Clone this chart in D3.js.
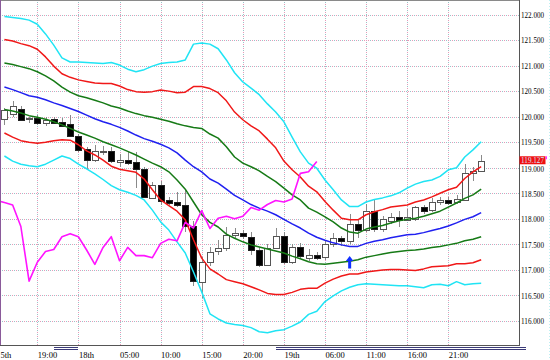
<!DOCTYPE html>
<html><head><meta charset="utf-8">
<script src="https://cdn.jsdelivr.net/npm/d3@7"></script>
<style>html,body{margin:0;padding:0;background:#fff;}svg{display:block;}</style>
</head><body>
<svg id="chart" width="550" height="360"></svg>
<script>
// ---------- DATA (hour index: 0 = 17th 19:00) ----------
const hours = d3.range(-4, 55);
const open = [119.96,120.05,120.15,119.95,119.97,119.88,119.95,119.90,119.86,119.63,119.37,119.15,119.30,119.32,119.12,119.16,119.11,118.98,118.42,118.67,118.37,118.32,118.27,117.85,116.77,117.16,117.36,117.42,117.68,117.72,117.65,117.39,117.10,117.43,117.66,117.16,117.45,117.24,117.30,117.24,117.50,117.62,117.56,117.90,117.78,118.15,117.79,117.95,118.03,117.98,118.00,118.24,118.16,118.32,118.37,118.32,118.38,118.90,118.93];
const high = [120.16,120.31,120.20,120.00,120.03,120.00,120.00,119.97,120.03,119.66,119.40,119.45,119.43,119.41,119.27,119.30,119.30,119.02,118.72,118.75,118.42,118.53,118.57,117.95,117.25,117.45,117.58,117.84,117.82,117.78,117.74,117.45,117.50,117.82,117.74,117.50,117.52,117.40,117.36,117.56,117.72,117.66,118.10,118.00,118.30,118.37,118.05,118.12,118.15,118.20,118.26,118.28,118.40,118.42,118.42,118.46,119.08,119.02,119.25];
const low = [119.84,120.00,119.92,119.88,119.84,119.81,119.85,119.80,119.61,119.31,118.98,119.12,119.25,119.10,119.02,119.05,118.60,118.40,118.38,118.28,118.28,118.24,117.75,116.68,116.45,117.08,117.30,117.38,117.60,117.60,117.30,117.05,117.08,117.40,117.12,117.12,117.22,117.18,117.20,117.20,117.45,117.46,117.50,117.62,117.74,117.74,117.75,117.90,117.84,117.95,117.96,118.10,118.14,118.28,118.28,118.30,118.36,118.74,118.92];
const close = [120.13,120.20,119.94,119.97,119.87,119.93,119.88,119.82,119.63,119.36,119.15,119.32,119.32,119.12,119.16,119.10,118.98,118.43,118.67,118.36,118.32,118.27,117.85,116.77,117.16,117.36,117.42,117.68,117.72,117.66,117.39,117.10,117.43,117.66,117.16,117.45,117.28,117.29,117.24,117.50,117.62,117.56,117.90,117.78,118.15,117.79,117.99,118.03,117.97,118.04,118.24,118.16,118.32,118.36,118.32,118.38,118.90,118.93,119.13];

const bandUpper3 = [121.96,121.94,121.92,121.89,121.81,121.62,121.40,121.15,121.07,121.07,121.06,121.05,121.04,121.06,121.01,120.93,120.88,120.92,120.99,121.04,121.06,121.07,121.11,121.42,121.44,121.42,121.33,121.11,120.86,120.68,120.56,120.43,120.25,120.09,119.90,119.60,119.31,119.09,118.99,118.76,118.57,118.37,118.24,118.24,118.33,118.38,118.41,118.45,118.51,118.60,118.68,118.73,118.76,118.83,118.96,119.00,119.21,119.35,119.51];
const bandUpper2 = [121.51,121.48,121.43,121.39,121.32,121.17,120.99,120.84,120.77,120.72,120.69,120.66,120.65,120.65,120.60,120.53,120.49,120.48,120.49,120.52,120.50,120.47,120.48,120.59,120.59,120.55,120.47,120.31,120.09,119.94,119.82,119.72,119.56,119.39,119.13,118.96,118.82,118.64,118.53,118.34,118.17,118.01,117.98,117.98,118.08,118.14,118.18,118.23,118.25,118.27,118.33,118.37,118.43,118.50,118.57,118.62,118.79,118.92,119.02];
const bandUpper1 = [121.05,121.02,120.98,120.94,120.88,120.80,120.70,120.58,120.48,120.41,120.37,120.32,120.27,120.21,120.17,120.11,120.06,120.02,119.99,119.95,119.91,119.86,119.82,119.79,119.77,119.66,119.58,119.41,119.21,119.09,119.02,118.94,118.83,118.73,118.60,118.47,118.37,118.21,118.13,118.04,117.94,117.82,117.74,117.72,117.80,117.84,117.87,117.92,117.96,117.99,118.01,118.05,118.10,118.15,118.23,118.31,118.40,118.47,118.58];
const bandMiddle = [120.58,120.53,120.47,120.41,120.38,120.33,120.27,120.22,120.16,120.10,120.03,119.96,119.90,119.85,119.79,119.72,119.64,119.57,119.52,119.46,119.39,119.29,119.15,119.02,118.92,118.78,118.70,118.58,118.46,118.37,118.28,118.21,118.15,118.08,117.99,117.90,117.82,117.72,117.64,117.58,117.53,117.49,117.46,117.46,117.52,117.56,117.59,117.63,117.66,117.69,117.70,117.73,117.77,117.81,117.86,117.92,117.99,118.04,118.12];
const bandLower1 = [120.14,120.11,120.07,120.02,119.99,119.95,119.90,119.84,119.77,119.70,119.64,119.58,119.51,119.45,119.39,119.32,119.25,119.17,119.09,119.02,118.92,118.76,118.58,118.33,118.08,117.93,117.84,117.70,117.62,117.55,117.49,117.45,117.41,117.37,117.33,117.27,117.22,117.16,117.12,117.11,117.13,117.15,117.17,117.20,117.25,117.28,117.31,117.34,117.36,117.38,117.39,117.41,117.44,117.46,117.49,117.52,117.57,117.60,117.65];
const bandLower2 = [119.68,119.60,119.53,119.50,119.48,119.50,119.53,119.55,119.54,119.45,119.33,119.25,119.15,119.03,118.97,118.94,118.91,118.78,118.57,118.37,118.26,118.15,117.98,117.59,117.23,117.02,116.92,116.81,116.77,116.73,116.67,116.61,116.54,116.52,116.52,116.56,116.62,116.64,116.64,116.74,116.82,116.88,116.92,116.92,116.96,116.98,117.00,117.01,117.01,117.00,116.99,117.02,117.06,117.07,117.08,117.12,117.12,117.14,117.20];
const bandLower3 = [119.23,119.13,119.07,119.04,119.02,119.07,119.15,119.23,119.18,119.07,118.98,118.88,118.77,118.65,118.57,118.52,118.46,118.37,118.17,117.94,117.78,117.55,117.33,116.96,116.57,116.14,116.04,115.96,115.93,115.91,115.87,115.79,115.77,115.81,115.83,115.90,115.98,116.13,116.19,116.38,116.49,116.59,116.66,116.71,116.73,116.72,116.71,116.70,116.69,116.69,116.67,116.65,116.71,116.72,116.69,116.77,116.71,116.73,116.74];

const lagHours = d3.range(-5, 35);
const lagSpan = [118.36,118.32,118.27,117.85,116.78,117.15,117.36,117.40,117.65,117.71,117.65,117.39,117.11,117.44,117.65,117.18,117.44,117.28,117.28,117.24,117.52,117.60,117.57,117.93,117.82,118.16,117.81,118.01,118.05,118.00,118.05,118.22,118.17,118.28,118.36,118.33,118.39,118.89,118.92,119.12];

const tickHours = [-5,0,5,10,15,20,25,30,35,40,45,50];
const tickLabels = ["5th","19:00","18th","05:00","10:00","15:00","20:00","19th","06:00","11:00","16:00","21:00"];
const priceTicks = [116,116.5,117,117.5,118,118.5,119,119.5,120,120.5,121,121.5,122];
const lastPrice = 119.127;
const signalHour = 38, signalPrice = 117.27;
const daySpans = [[2,5],[29,59.5]];

// ---------- DRAW ----------
const svg = d3.select("#chart");
const plotR = 519, plotB = 345;
const x = d3.scaleLinear().domain([0,50]).range([37.3,448.3]);
const y = d3.scaleLinear().domain([116,122]).range([321,14.5]);
const FONT = "'Liberation Serif', serif";

svg.append("rect").attr("width",550).attr("height",360).attr("fill","#fff");
svg.append("clipPath").attr("id","clip").append("rect").attr("x",0).attr("y",0).attr("width",plotR).attr("height",plotB);

// grid
const grid = svg.append("g").attr("clip-path","url(#clip)").attr("shape-rendering","crispEdges");
priceTicks.forEach(p=>{
  const yy = Math.round(y(p))+0.5;
  grid.append("line").attr("x1",0).attr("x2",plotR).attr("y1",yy).attr("y2",yy)
    .attr("stroke","#e898b8").attr("stroke-dasharray","1,3");
  grid.append("line").attr("x1",2).attr("x2",plotR).attr("y1",yy).attr("y2",yy)
    .attr("stroke","#98c4c8").attr("stroke-dasharray","1,3");
});
tickHours.forEach(h=>{
  const xx = Math.round(x(h))+0.5;
  grid.append("line").attr("x1",xx).attr("x2",xx).attr("y1",0).attr("y2",plotB)
    .attr("stroke","#e898b8").attr("stroke-dasharray","1,3");
  grid.append("line").attr("x1",xx).attr("x2",xx).attr("y1",2).attr("y2",plotB)
    .attr("stroke","#98c4c8").attr("stroke-dasharray","1,3");
});

// candles
const cg = svg.append("g").attr("clip-path","url(#clip)").attr("shape-rendering","crispEdges");
hours.forEach((h,k)=>{
  const cx = Math.round(x(h));
  const o=open[k], c=close[k], hi=high[k], lo=low[k];
  cg.append("line").attr("x1",cx+0.5).attr("x2",cx+0.5).attr("y1",y(hi)).attr("y2",y(lo))
    .attr("stroke","#8a8a8a").attr("stroke-width",1);
  const top = y(Math.max(o,c)), bot = y(Math.min(o,c));
  const up = c>=o;
  cg.append("rect").attr("x",cx-3+0.5).attr("y",Math.round(top)+0.5)
    .attr("width",6).attr("height",Math.max(1,Math.round(bot-top)))
    .attr("fill",up?"#fff":"#000").attr("stroke",up?"#555":"#222").attr("stroke-width",1);
});

// bands
const lg = svg.append("g").attr("clip-path","url(#clip)").attr("fill","none")
  .attr("stroke-width",1.5).attr("stroke-linejoin","round");
const line = d3.line().x(d=>x(d[0])).y(d=>y(d[1]));
const bands = [
  [bandUpper3,"#20e4f4"],[bandLower3,"#20e4f4"],
  [bandUpper2,"#f01818"],[bandLower2,"#f01818"],
  [bandUpper1,"#167a16"],[bandLower1,"#167a16"],
  [bandMiddle,"#2020f0"]
];
bands.forEach(([arr,col])=>{
  lg.append("path").attr("d",line(hours.map((h,k)=>[h,arr[k]]))).attr("stroke",col);
});
lg.append("path").attr("d",line(lagHours.map((h,k)=>[h,lagSpan[k]]))).attr("stroke","#ff14ff").attr("stroke-width",1.6);

// signal arrow
const ax = x(signalHour), ay = y(signalPrice);
svg.append("path").attr("fill","#1030ff")
  .attr("d",`M${ax},${ay} L${ax+3.8},${ay+5} L${ax+1.5},${ay+5} L${ax+1.5},${ay+12.5} L${ax-1.5},${ay+12.5} L${ax-1.5},${ay+5} L${ax-3.8},${ay+5} Z`);

// frame
const fr = svg.append("g").attr("shape-rendering","crispEdges");
fr.append("line").attr("x1",0).attr("x2",plotR).attr("y1",0.5).attr("y2",0.5).attr("stroke","#8a8a8a");
fr.append("line").attr("x1",0.5).attr("x2",0.5).attr("y1",0).attr("y2",plotB).attr("stroke","#8a5a9a");
fr.append("line").attr("x1",plotR+0.5).attr("x2",plotR+0.5).attr("y1",0).attr("y2",plotB+1).attr("stroke","#555");
fr.append("line").attr("x1",0).attr("x2",plotR+1).attr("y1",plotB+0.5).attr("y2",plotB+0.5).attr("stroke","#555");
fr.append("line").attr("x1",549.5).attr("x2",549.5).attr("y1",0).attr("y2",360).attr("stroke","#bfeff2").attr("stroke-dasharray","1,2");
daySpans.forEach(([a,b])=>{
  [347.5,349.5].forEach(yy=>fr.append("line").attr("x1",x(a)).attr("x2",x(b)).attr("y1",yy).attr("y2",yy).attr("stroke","#3a3a78"));
});

// axes
const yAxis = d3.axisRight(y).tickValues(priceTicks).tickFormat(d3.format(".3f")).tickSize(0).tickPadding(2);
const ya = svg.append("g").attr("transform",`translate(${plotR},0)`).call(yAxis);
ya.select(".domain").remove();
ya.attr("font-family",FONT).attr("font-size",8.5);
ya.selectAll("text").attr("fill","#000").attr("textLength",23).attr("lengthAdjust","spacingAndGlyphs")
  .attr("dy",d=>d===119 ? "0.42em" : "0.32em");

const xAxis = d3.axisBottom(x).tickValues(tickHours).tickFormat((d,i)=>tickLabels[i]).tickSize(0).tickPadding(7);
const xa = svg.append("g").attr("transform",`translate(0,${plotB})`).call(xAxis);
xa.select(".domain").remove();
xa.attr("font-family",FONT).attr("font-size",8.5);
xa.selectAll("text").attr("fill","#000").attr("text-anchor","start")
  .attr("x",d=>Math.max(0,x(d))-x(d));

// last price tag
const py = y(lastPrice);
svg.append("rect").attr("x",519.5).attr("y",py-5).attr("width",26).attr("height",8).attr("fill","#f01010");
svg.append("rect").attr("x",545.5).attr("y",py-5).attr("width",1.5).attr("height",3).attr("fill","#ff30ff");
svg.append("text").attr("x",521).attr("y",py+2).attr("font-family",FONT)
  .attr("font-size",7.5).attr("fill","#cfe8ff").attr("textLength",23).attr("lengthAdjust","spacingAndGlyphs")
  .text(d3.format(".3f")(lastPrice));
</script>
</body></html>
